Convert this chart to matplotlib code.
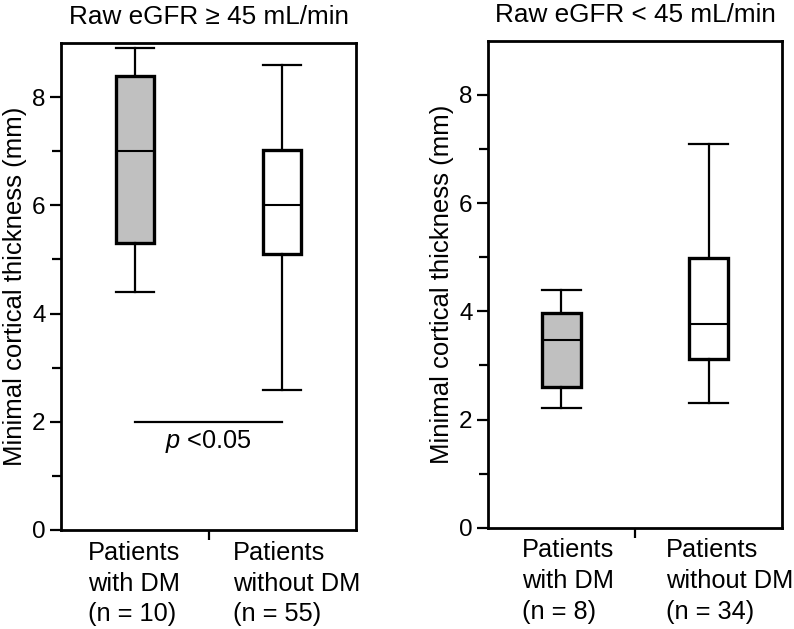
import matplotlib
matplotlib.use('Agg')
import matplotlib.pyplot as plt
import matplotlib.transforms as mtransforms

plt.rcParams['font.family'] = ['Liberation Sans', 'DejaVu Sans']
plt.rcParams['mathtext.fontset'] = 'custom'
plt.rcParams['mathtext.rm'] = 'Liberation Sans'
plt.rcParams['mathtext.it'] = 'Liberation Sans:italic'

# data (mm)
panel_titles = ['Raw eGFR \u2265 45 mL/min', 'Raw eGFR < 45 mL/min']
group_names = ['Patients\nwith DM', 'Patients\nwithout DM']
n_high = [10, 55]
n_low = [8, 34]

high_whislo = [4.39, 2.59]
high_q1 = [5.30, 5.11]
high_med = [7.00, 6.00]
high_q3 = [8.39, 7.03]
high_whishi = [8.90, 8.60]

low_whislo = [2.22, 2.30]
low_q1 = [2.60, 3.12]
low_med = [3.46, 3.77]
low_q3 = [3.96, 4.98]
low_whishi = [4.40, 7.09]

box_colors = ['#c0c0c0', 'white']
p_text = r'$\it{p}$ <0.05'

fig = plt.figure(figsize=(7.94, 6.29), dpi=100)
ax1 = fig.add_axes([0.0768, 0.1574, 0.3716, 0.7742])
ax2 = fig.add_axes([0.6146, 0.1610, 0.3703, 0.7743])


def make_stats(lo, q1, med, q3, hi):
    stats = []
    for i in range(len(med)):
        stats.append(dict(whislo=lo[i], q1=q1[i], med=med[i], q3=q3[i],
                          whishi=hi[i], fliers=[]))
    return stats


def draw_panel(ax, stats, title, n_vals, label_x):
    bp = ax.bxp(stats, positions=[0.5, 1.5], widths=0.26, patch_artist=True,
                showfliers=False,
                boxprops=dict(linewidth=2.4, edgecolor='black'),
                medianprops=dict(color='black', linewidth=1.5),
                whiskerprops=dict(color='black', linewidth=1.6),
                capprops=dict(color='black', linewidth=1.6),
                capwidths=0.26)
    for patch, c in zip(bp['boxes'], box_colors):
        patch.set_facecolor(c)

    ax.set_xlim(0, 2)
    ax.set_ylim(0, 9)
    ax.set_yticks([0, 2, 4, 6, 8])
    ax.set_yticks([1, 3, 5, 7], minor=True)
    ax.tick_params(axis='y', which='major', length=8, width=1.6,
                   labelsize=17.5, pad=3)
    ax.tick_params(axis='y', which='minor', length=6.5, width=1.6)
    ax.set_xticks([1])
    ax.set_xticklabels([''])
    ax.tick_params(axis='x', which='major', length=7.5, width=1.6)
    for s in ax.spines.values():
        s.set_linewidth(2.0)

    ax.set_ylabel('Minimal cortical thickness (mm)', fontsize=18.5)
    ax.yaxis.set_label_coords(-0.115, 0.5)

    ax.text(0.5, 1.0 + 19 / 487, title, transform=ax.transAxes,
            ha='center', va='baseline', fontsize=18.8)

    trans = mtransforms.blended_transform_factory(ax.transData, ax.transAxes)
    for i, name in enumerate(group_names):
        ax.text(label_x[i], -0.022, name + '\n(n = %d)' % n_vals[i],
                transform=trans, ha='left', va='top', fontsize=18.3,
                linespacing=1.36)


draw_panel(ax1, make_stats(high_whislo, high_q1, high_med, high_q3, high_whishi),
           panel_titles[0], n_high, [0.183, 1.166])
draw_panel(ax2, make_stats(low_whislo, low_q1, low_med, low_q3, low_whishi),
           panel_titles[1], n_low, [0.229, 1.209])

# significance bar between groups in the left panel
ax1.plot([0.5, 1.5], [2.0, 2.0], color='black', linewidth=1.6)
ax1.text(1.0, 1.52, p_text, ha='center', va='baseline', fontsize=18.3)

fig.savefig('out.png', dpi=100)
